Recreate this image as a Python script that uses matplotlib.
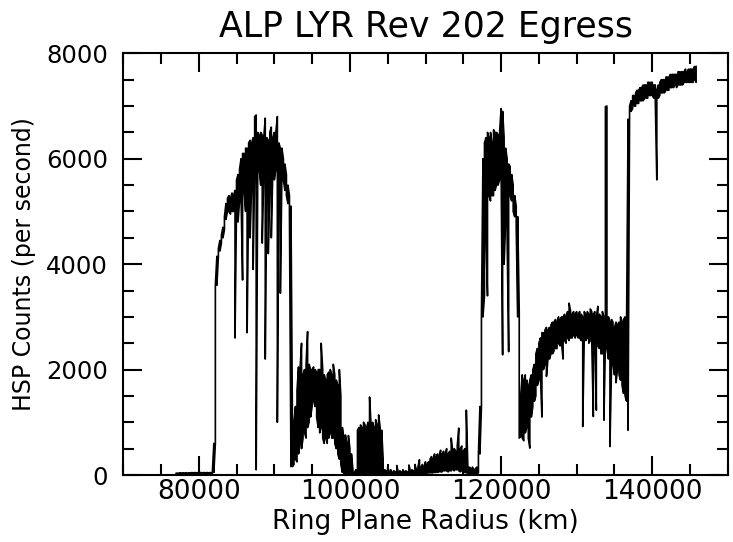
import numpy as np
import matplotlib
matplotlib.use("Agg")
import matplotlib.pyplot as plt
from matplotlib.ticker import MultipleLocator

# HSP counts binned every 200 km of ring plane radius (starting at 77000 km);
# each bin keeps the lowest and highest count read in it (one row = 2000 km)
radius_start = 77000
radius_step = 200
counts_min = [
    20, 20, 25, 25, 25, 25, 25, 25, 25, 25,                          # 77000
    25, 25, 25, 25, 25, 25, 25, 25, 25, 25,                          # 79000
    25, 25, 25, 25, 30, 50, 600, 3600, 4150, 4250,                   # 81000
    4400, 4500, 4650, 4850, 5000, 5000, 4950, 5000, 5000, 2600,      # 83000
    5100, 4800, 5200, 5300, 3700, 5400, 5000, 2700, 5300, 4500,      # 85000
    5500, 3900, 5800, 100, 5600, 5800, 5500, 4400, 5700, 2200,       # 87000
    5600, 4200, 5500, 4500, 5800, 5600, 5800, 1000, 5500, 3450,      # 89000
    5700, 5600, 5400, 5300, 5150, 5000, 160, 160, 200, 300,          # 91000
    250, 400, 600, 500, 700, 800, 700, 900, 1000, 1100,              # 93000
    1300, 1400, 1300, 1100, 900, 800, 900, 700, 600, 700,            # 95000
    600, 700, 800, 700, 700, 600, 500, 400, 300, 200,                # 97000
    50, 0, 0, 0, 0, 0, 0, 0, 0, 0,                                   # 99000
    0, 0, 0, 0, 0, 0, 0, 0, 0, 0,                                    # 101000
    0, 0, 0, 0, 0, 0, 0, 0, 0, 0,                                    # 103000
    0, 0, 0, 0, 0, 0, 0, 0, 0, 0,                                    # 105000
    0, 0, 0, 0, 0, 0, 0, 10, 10, 20,                                 # 107000
    20, 20, 20, 20, 30, 30, 30, 40, 40, 40,                          # 109000
    40, 50, 50, 50, 60, 60, 60, 80, 80, 80,                          # 111000
    60, 80, 80, 100, 80, 100, 100, 80, 60, 80,                       # 113000
    50, 50, 40, 30, 30, 20, 20, 20, 20, 20,                          # 115000
    40, 400, 1300, 3000, 3400, 4500, 3400, 5300, 5200, 5300,         # 117000
    5300, 5400, 5500, 5500, 5600, 5800, 2280, 4000, 4800, 4500,      # 119000
    2340, 5300, 5200, 5000, 4900, 4700, 3000, 700, 730, 700,         # 121000
    650, 800, 900, 700, 510, 1100, 1300, 1400, 1500, 1700,           # 123000
    1800, 1900, 1100, 2000, 2100, 1870, 2200, 2200, 2300, 2300,      # 125000
    2350, 2400, 2400, 2500, 2450, 2500, 2200, 2550, 2500, 2600,      # 127000
    2550, 2600, 2600, 2650, 2600, 2650, 2600, 2600, 2550, 920,       # 129000
    2600, 2550, 2600, 2500, 2550, 2500, 1110, 2450, 1230, 2450,      # 131000
    2400, 2300, 2300, 1040, 2500, 2400, 2200, 540, 2000, 2100,       # 133000
    1900, 1750, 2000, 1900, 1800, 1700, 1550, 1500, 1400, 850,       # 135000
    6700, 6900, 6950, 7000, 7000, 7050, 7050, 7100, 7100, 7100,      # 137000
    7150, 7150, 7150, 7200, 7200, 7200, 7150, 7100, 5600, 7150,      # 139000
    7200, 7250, 7250, 7250, 7300, 7300, 7300, 7350, 7350, 7350,      # 141000
    7400, 7350, 7400, 7400, 7400, 7400, 7450, 7450, 7450, 7450,      # 143000
    7450, 7450, 7450, 7500, 7450,                                    # 145000
]
counts_max = [
    35, 35, 40, 40, 40, 40, 40, 40, 40, 40,                          # 77000
    45, 45, 45, 45, 45, 45, 45, 45, 45, 45,                          # 79000
    45, 45, 45, 45, 50, 600, 3600, 4150, 4300, 4450,                 # 81000
    4550, 4700, 4900, 5150, 5250, 5300, 5250, 5350, 5300, 5400,      # 83000
    5600, 5700, 5800, 6000, 6100, 6100, 6200, 6200, 6300, 6350,      # 85000
    6300, 6400, 6800, 6830, 6500, 6450, 6500, 6450, 6400, 6770,      # 87000
    6400, 6350, 6500, 6600, 6400, 6500, 6500, 6800, 6300, 6200,      # 89000
    6200, 6000, 5900, 5700, 5500, 5300, 5100, 900, 1000, 1300,       # 91000
    1600, 2050, 2000, 2500, 1900, 2000, 2100, 2720, 2100, 2000,      # 93000
    2000, 2050, 2000, 1950, 2000, 2000, 2500, 2000, 1900, 1800,      # 95000
    1900, 1950, 2000, 1900, 2100, 1900, 1800, 1700, 2000, 1500,      # 97000
    900, 700, 760, 600, 750, 500, 400, 100, 50, 100,                 # 99000
    850, 900, 950, 900, 1000, 950, 900, 1000, 1480, 950,             # 101000
    1000, 900, 1050, 950, 1140, 900, 850, 300, 100, 80,              # 103000
    150, 60, 100, 50, 80, 60, 180, 50, 80, 60,                       # 105000
    100, 60, 80, 60, 190, 80, 100, 80, 200, 100,                     # 107000
    150, 290, 150, 200, 150, 250, 200, 250, 300, 350,                # 109000
    300, 400, 350, 400, 350, 470, 400, 450, 400, 500,                # 111000
    400, 450, 700, 450, 500, 450, 550, 890, 500, 550,                # 113000
    450, 500, 1230, 150, 150, 120, 150, 100, 120, 150,               # 115000
    400, 1300, 3000, 6000, 6300, 6400, 6500, 6400, 6500, 6300,       # 117000
    6550, 6500, 6500, 6450, 6500, 6950, 6900, 6400, 6200, 6000,      # 119000
    5900, 5850, 5700, 5500, 5300, 5100, 4900, 3100, 1500, 1900,      # 121000
    1800, 1900, 1800, 1700, 1800, 1900, 2000, 2100, 2300, 2400,      # 123000
    2500, 2600, 2700, 2700, 2750, 2800, 2750, 2800, 2850, 2900,      # 125000
    2900, 2950, 2900, 3000, 2950, 3000, 3000, 3050, 3000, 3100,      # 127000
    3260, 3100, 3050, 3100, 3050, 3100, 3050, 3100, 3050, 3000,      # 129000
    3100, 3050, 3100, 3050, 3150, 3100, 3050, 3100, 3000, 3200,      # 131000
    3050, 3000, 3100, 3000, 6990, 7000, 3000, 2900, 2950, 2900,      # 133000
    2800, 2900, 2850, 2900, 3000, 2900, 2950, 3000, 2900, 6750,      # 135000
    7000, 7100, 7200, 7200, 7250, 7300, 7300, 7350, 7350, 7400,      # 137000
    7400, 7400, 7450, 7450, 7450, 7450, 7400, 7400, 7300, 7400,      # 139000
    7450, 7500, 7500, 7500, 7550, 7550, 7550, 7600, 7600, 7600,      # 141000
    7600, 7600, 7650, 7650, 7650, 7650, 7650, 7700, 7650, 7700,      # 143000
    7700, 7700, 7700, 7750, 7750,                                    # 145000
]
radius = radius_start + radius_step * np.arange(len(counts_min))

# draw the binned trace as a zigzag: low->high in one bin, high->low in the next
lo = np.array(counts_min)
hi = np.array(counts_max)
first = np.where(np.arange(len(lo)) % 2 == 0, lo, hi)
second = np.where(np.arange(len(lo)) % 2 == 0, hi, lo)
trace_r = np.repeat(radius, 2)
trace_c = np.column_stack([first, second]).ravel()

fig = plt.figure(figsize=(7.33, 5.42), dpi=100)
ax = fig.add_axes([0.168, 0.1236, 0.825, 0.778])

ax.plot(trace_r, trace_c, color="black", linewidth=1.2)

ax.set_xlim(70000, 150000)
ax.set_ylim(0, 8000)
ax.xaxis.set_major_locator(MultipleLocator(20000))
ax.xaxis.set_minor_locator(MultipleLocator(5000))
ax.yaxis.set_major_locator(MultipleLocator(2000))
ax.yaxis.set_minor_locator(MultipleLocator(500))
ax.tick_params(which="both", direction="in", top=True, right=True, width=1.5)
ax.tick_params(which="major", length=14)
ax.tick_params(which="minor", length=8)
ax.tick_params(axis="x", labelsize=19, pad=3)
ax.tick_params(axis="y", labelsize=17.5, pad=11)
for s in ax.spines.values():
    s.set_linewidth(1.5)

ax.set_title("ALP LYR Rev 202 Egress", fontsize=25, pad=12)
ax.set_xlabel("Ring Plane Radius (km)", fontsize=19, labelpad=3)
ax.set_ylabel("HSP Counts (per second)", fontsize=17, labelpad=7)

fig.savefig("out.png", dpi=100)
